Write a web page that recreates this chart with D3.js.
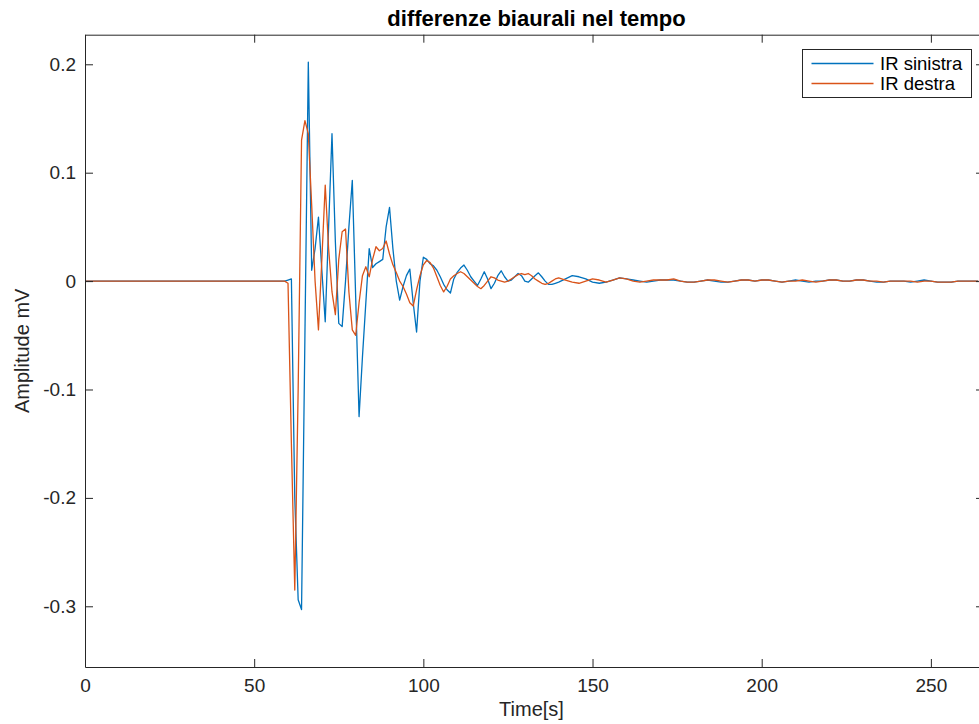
<!DOCTYPE html>
<html>
<head>
<meta charset="utf-8">
<script src="https://cdn.jsdelivr.net/npm/d3@7/dist/d3.min.js"></script>
<style>
  html, body { margin: 0; padding: 0; background: #ffffff; }
  svg { display: block; }
  text { font-family: "Liberation Sans", Arial, Helvetica, sans-serif; }
</style>
</head>
<body>
<svg id="chart" width="979" height="724"></svg>
<script>
// ---------------- data ----------------
const chartTitle = "differenze biaurali nel tempo";
const xLabel = "Time[s]";
const yLabel = "Amplitude mV";
const seriesNames = ["IR sinistra", "IR destra"];

const xTicks = [0, 50, 100, 150, 200, 250];
const yTicks = [0.2, 0.1, 0, -0.1, -0.2, -0.3];

// time samples
const time = [
  0, 59,
  60, 61, 62, 63, 64, 65, 66, 67, 68, 69,
  70, 71, 72, 73, 74, 75, 76, 77, 78, 79,
  80, 81, 82, 83, 84, 85, 86, 87, 88, 89,
  90, 91, 92, 93, 94, 95, 96, 97, 98, 99,
  100, 101, 102, 103, 104, 105, 106, 107, 108, 109,
  110, 111, 112, 113, 114, 115, 116, 117, 118, 119,
  120, 121, 122, 123, 124, 125, 126, 127, 128, 129,
  130, 131, 132, 133, 134, 135, 136, 137, 138, 139,
  140,
  142, 144, 146, 148, 150, 152, 154, 156, 158, 160,
  162, 164, 166, 168, 170, 172, 174, 176, 178, 180,
  182, 184, 186, 188, 190, 192, 194, 196, 198, 200,
  202, 204, 206, 208, 210, 212, 214, 216, 218, 220,
  222, 224, 226, 228, 230, 232, 234, 236, 238, 240,
  242, 244, 246, 248, 250, 252, 254, 256, 258, 260,
  262, 264
];

// IR sinistra (blue)
const irSinistra = [
  0, 0,
  0.001, 0.002, -0.2, -0.294, -0.303, -0.05, 0.202, 0.01, 0.03, 0.059,
  0.01, -0.0375, 0.05, 0.136, 0.036, -0.039, -0.042, 0.0, 0.05, 0.093,
  -0.015, -0.125, -0.07, -0.02, 0.030, 0.0125, 0.016, 0.018, 0.02, 0.05,
  0.068, 0.03, 0.0, -0.0175, -0.005, 0.005, 0.011, -0.02, -0.047, 0.0,
  0.022, 0.02, 0.016, 0.014, 0.01, 0.004, -0.003, -0.008, -0.011, 0.002,
  0.008, 0.012, 0.0148, 0.01, 0.004, 0.0, -0.004, 0.002, 0.0086, 0.002,
  -0.007, -0.002, 0.005, 0.0095, 0.004, 0.0, 0.001, 0.004, 0.007, 0.005,
  0.0, -0.001, 0.002, 0.005, 0.0076, 0.004, 0.0, -0.003, -0.003, -0.002,
  -0.001,
  0.002, 0.005, 0.004, 0.002, -0.001, -0.002, -0.001, 0.001, 0.003, 0.002,
  0.001, 0.0, -0.001, 0.0, 0.001, 0.001, 0.001, 0.0, -0.001, -0.001,
  0.0, 0.001, 0.0, -0.001, -0.001, 0.0, 0.001, 0.001, 0.0, 0.001,
  0.001, 0.0, -0.001, 0.0, 0.001, 0.0, -0.001, 0.0, 0.0, 0.001,
  0.001, 0.0, 0.0, 0.001, 0.001, 0.0, -0.001, -0.001, 0.0, 0.0,
  0.0, -0.001, 0.0, 0.001, 0.0, -0.001, -0.001, -0.001, 0.0, 0.0,
  0.0, 0.0
];

// IR destra (orange)
const irDestra = [
  0, 0,
  -0.002, -0.15, -0.285, -0.1, 0.13, 0.148, 0.136, 0.07, 0.0, -0.045,
  0.02, 0.0886, 0.03, -0.01, -0.031, 0.02, 0.0455, 0.048, -0.01, -0.045,
  -0.050, -0.02, 0.005, 0.0132, 0.004, 0.02, 0.0317, 0.028, 0.03, 0.037,
  0.025, 0.015, 0.008, 0.0, -0.005, -0.012, -0.02, -0.023, -0.008, 0.005,
  0.015, 0.019, 0.017, 0.012, 0.004, -0.004, -0.01, -0.005, 0.002, 0.005,
  0.007, 0.0086, 0.007, 0.004, 0.001, -0.002, -0.005, -0.007, -0.004, 0.0,
  0.004, 0.003, 0.001, 0.0, -0.001, 0.0, 0.002, 0.004, 0.006, 0.007,
  0.006, 0.007, 0.005, 0.002, 0.0, -0.002, -0.003, -0.002, 0.0, 0.002,
  0.003,
  0.001, -0.001, -0.002, 0.0, 0.002, 0.001, -0.001, 0.001, 0.003, 0.002,
  0.0, -0.001, 0.0, 0.001, 0.001, 0.001, 0.002, 0.0, -0.001, -0.001,
  0.0, 0.001, 0.001, 0.0, -0.001, 0.0, 0.001, 0.001, 0.0, 0.001,
  0.001, 0.0, -0.001, 0.0, 0.0, 0.001, 0.0, -0.001, 0.0, 0.001,
  0.001, 0.0, 0.0, 0.001, 0.001, 0.0, 0.0, -0.001, 0.0, 0.0,
  0.0, 0.0, -0.001, 0.0, 0.0, -0.001, -0.001, -0.001, 0.0, 0.0,
  0.0, 0.0
];

const seriesColors = ["#0072BD", "#D95319"];

// ---------------- layout ----------------
const svg = d3.select("#chart");
const plot = { left: 85, right: 984, top: 34.7, bottom: 667 };
const axisColor = "#262626";

const x = d3.scaleLinear().domain([0, 265.7]).range([plot.left, plot.right]);
const y = d3.scaleLinear().domain([-0.356, 0.2273]).range([plot.bottom, plot.top]);

const fmt = d => (d === 0 ? "0" : String(d));

// clip
svg.append("defs").append("clipPath").attr("id", "clip")
  .append("rect")
  .attr("x", plot.left).attr("y", plot.top)
  .attr("width", plot.right - plot.left).attr("height", plot.bottom - plot.top);

// lines
const series = [irSinistra, irDestra];
const line = d3.line().x(d => x(d[0])).y(d => y(d[1]));
series.forEach((vals, i) => {
  const n = Math.min(time.length, vals.length);
  const pts = [];
  for (let k = 0; k < n; k++) pts.push([time[k], vals[k]]);
  svg.append("path")
    .datum(pts)
    .attr("clip-path", "url(#clip)")
    .attr("fill", "none")
    .attr("stroke", seriesColors[i])
    .attr("stroke-width", 1.3)
    .attr("stroke-linejoin", "round")
    .attr("d", line);
});

// axes
function styleAxis(g) {
  g.select(".domain").attr("stroke", axisColor).attr("stroke-width", 1);
  g.selectAll(".tick line").attr("stroke", axisColor).attr("stroke-width", 1);
  g.selectAll(".tick text").attr("fill", axisColor)
    .style("font-family", '"Liberation Sans", Arial, sans-serif');
}

svg.append("g")
  .attr("transform", `translate(0,${plot.bottom})`)
  .call(d3.axisBottom(x).tickValues(xTicks).tickFormat(fmt).tickSize(-8).tickSizeOuter(0).tickPadding(12))
  .call(g => g.selectAll(".tick text").style("font-size", "19px"))
  .call(styleAxis);

svg.append("g")
  .attr("transform", `translate(0,${plot.top})`)
  .call(d3.axisTop(x).tickValues(xTicks).tickFormat("").tickSize(-8).tickSizeOuter(0))
  .call(styleAxis);

svg.append("g")
  .attr("transform", `translate(${plot.left},0)`)
  .call(d3.axisLeft(y).tickValues(yTicks).tickFormat(fmt).tickSize(-8).tickSizeOuter(0).tickPadding(9))
  .call(g => g.selectAll(".tick text").style("font-size", "19px"))
  .call(styleAxis);

svg.append("g")
  .attr("transform", `translate(${plot.right},0)`)
  .call(d3.axisRight(y).tickValues(yTicks).tickFormat("").tickSize(-8).tickSizeOuter(0))
  .call(styleAxis);

// title & labels
const cx = (plot.left + plot.right) / 2;
svg.append("text")
  .attr("x", cx + 2).attr("y", 26)
  .attr("text-anchor", "middle")
  .attr("fill", "#000")
  .style("font-size", "22px").style("font-weight", "bold")
  .text(chartTitle);

svg.append("text")
  .attr("x", cx - 3).attr("y", 716)
  .attr("text-anchor", "middle")
  .attr("fill", axisColor)
  .style("font-size", "20px")
  .text(xLabel);

svg.append("text")
  .attr("transform", `translate(29,${(plot.top + plot.bottom) / 2}) rotate(-90)`)
  .attr("text-anchor", "middle")
  .attr("fill", axisColor)
  .style("font-size", "20px")
  .text(yLabel);

// legend
const lg = svg.append("g");
lg.append("rect")
  .attr("x", 802.5).attr("y", 49.5).attr("width", 169).attr("height", 48)
  .attr("fill", "#fff").attr("stroke", axisColor).attr("stroke-width", 1);
seriesNames.forEach((name, i) => {
  const ly = 63.5 + i * 20;
  lg.append("line")
    .attr("x1", 811.5).attr("x2", 873.5).attr("y1", ly).attr("y2", ly)
    .attr("stroke", seriesColors[i]).attr("stroke-width", 1.3);
  lg.append("text")
    .attr("x", 880).attr("y", ly + 6.5)
    .attr("fill", "#000")
    .style("font-size", "18.5px")
    .text(name);
});
</script>
</body>
</html>
